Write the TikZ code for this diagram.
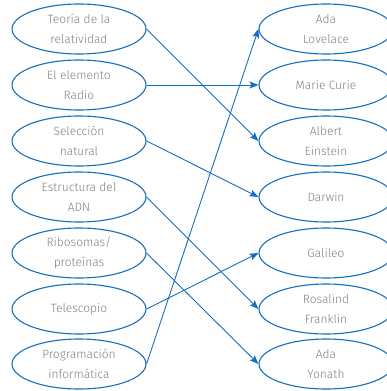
\documentclass[tikz,border=0pt]{standalone}
\usepackage{fontspec}
\setmainfont{Fira Sans Light}
\usepackage{xcolor}
\usetikzlibrary{shapes.geometric, arrows.meta}
\definecolor{linkblue}{RGB}{21,110,189}
\definecolor{labelgray}{RGB}{128,128,128}

\begin{document}
\begin{tikzpicture}[x=1pt, y=-1pt]
        % Define styles
        \tikzstyle{topic} = [ellipse, draw=linkblue, line width=1.1pt, minimum width=134pt, minimum height=50pt, inner sep=0pt, align=center, text=labelgray, font=\fontsize{12}{20}\selectfont]
        \tikzstyle{arrow} = [-{Stealth[length=9pt, width=7pt, inset=2pt]}, linkblue, line width=0.9pt]

        \useasboundingbox (0,0) rectangle (387,391);

        % Discoveries - left column
        \node[topic] (teoria) at (79, 29) {Teoría de la\\relatividad};
        \node[topic] (radio) at (79, 85) {El elemento\\Radio};
        \node[topic] (seleccion) at (79, 141) {Selección\\natural};
        \node[topic] (adn) at (79, 197) {Estructura del\\ADN};
        \node[topic] (ribosomas) at (79, 253) {Ribosomas/\\proteínas};
        \node[topic] (telescopio) at (79, 309) {Telescopio};
        \node[topic] (programacion) at (79, 364) {Programación\\informática};

        % Scientists - right column
        \node[topic] (lovelace) at (326, 29) {Ada\\Lovelace};
        \node[topic] (curie) at (326, 85) {Marie Curie};
        \node[topic] (einstein) at (326, 141) {Albert\\Einstein};
        \node[topic] (darwin) at (326, 197) {Darwin};
        \node[topic] (galileo) at (326, 253) {Galileo};
        \node[topic] (franklin) at (326, 309) {Rosalind\\Franklin};
        \node[topic] (yonath) at (326, 364) {Ada\\Yonath};

        % Connections
        \draw[arrow] (teoria.east) -- (einstein.west);
        \draw[arrow] (radio.east) -- (curie.west);
        \draw[arrow] (seleccion.east) -- (darwin.west);
        \draw[arrow] (adn.east) -- (franklin.west);
        \draw[arrow] (ribosomas.east) -- (yonath.west);
        \draw[arrow] (telescopio.east) -- (galileo.west);
        \draw[arrow] (programacion.east) -- (lovelace.west);

    \end{tikzpicture}
\end{document}
